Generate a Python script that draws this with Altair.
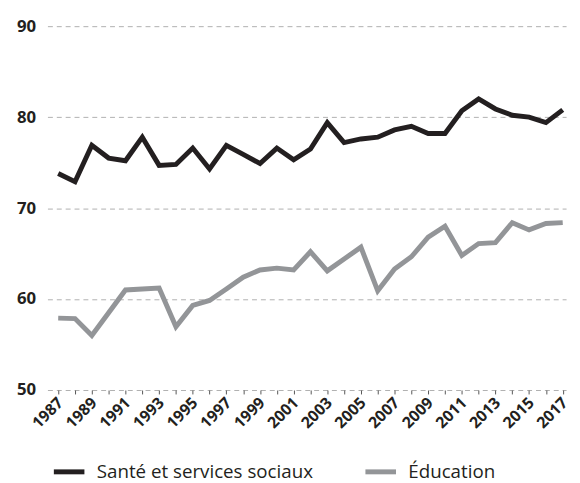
import altair as alt
import pandas as pd

years = list(range(1987, 2018))
sante = [73.8, 72.9, 76.9, 75.5, 75.2, 77.8, 74.7, 74.8, 76.6, 74.3, 76.9, 75.9, 74.9, 76.6,
         75.3, 76.5, 79.4, 77.2, 77.6, 77.8, 78.6, 79.0, 78.2, 78.2, 80.7, 82.0, 80.9, 80.2,
         80.0, 79.4, 80.8]
education = [57.9, 57.85, 56.0, 58.5, 61.0, 61.1, 61.2, 56.95, 59.3, 59.85, 61.1, 62.4, 63.2, 63.4,
             63.2, 65.2, 63.1, 64.4, 65.7, 60.9, 63.3, 64.65, 66.8, 68.0, 64.8, 66.1, 66.2, 68.4,
             67.6, 68.3, 68.4]
series_names = ["Santé et services sociaux", "Éducation"]
series_colors = ["#231f20", "#939598"]
y_ticks = [50, 60, 70, 80, 90]

df = pd.DataFrame({
    "annee": years * 2,
    "valeur": sante + education,
    "serie": [series_names[0]] * len(years) + [series_names[1]] * len(years),
})

font = "Open Sans"

chart = alt.Chart(df).mark_line(strokeWidth=5, strokeJoin="miter").encode(
    x=alt.X("annee:Q",
            scale=alt.Scale(domain=[1986.36, 2017.2], nice=False, zero=False),
            axis=alt.Axis(values=years, format="d", grid=False, domain=False,
                          tickSize=4, tickColor="#555", tickWidth=1,
                          labelExpr="datum.value % 2 == 1 ? datum.label : ''",
                          labelOverlap=False,
                          labelAngle=-45, labelAlign="right", labelBaseline="middle",
                          labelFont=font, labelFontWeight="bold", labelFontSize=16,
                          labelColor="#231f20", labelPadding=6, labelOffset=2,
                          title=None)),
    y=alt.Y("valeur:Q",
            scale=alt.Scale(domain=[50, 90], nice=False, zero=False),
            axis=alt.Axis(values=y_ticks, grid=True, gridDash=[5, 4], gridColor="#b0b0b0",
                          gridWidth=1, domain=False, ticks=False,
                          labelFont=font, labelFontWeight="bold", labelFontSize=17,
                          labelColor="#231f20", labelPadding=12, title=None)),
    color=alt.Color("serie:N",
                    scale=alt.Scale(domain=series_names, range=series_colors),
                    sort=series_names,
                    legend=alt.Legend(orient="none", legendX=4, legendY=434,
                                      direction="horizontal", title=None,
                                      symbolType="stroke", symbolSize=961,
                                      symbolStrokeWidth=5, labelFont=font,
                                      labelFontSize=19, labelColor="#231f20",
                                      labelLimit=400, labelOffset=10, columnPadding=42)),
).properties(
    width=526, height=369,
    autosize=alt.AutoSizeParams(type="none"),
    padding={"left": 40, "top": 15, "right": 6, "bottom": 100},
).configure_view(stroke=None)

chart.save("out.html", embed_options={"renderer": "svg", "actions": False})
